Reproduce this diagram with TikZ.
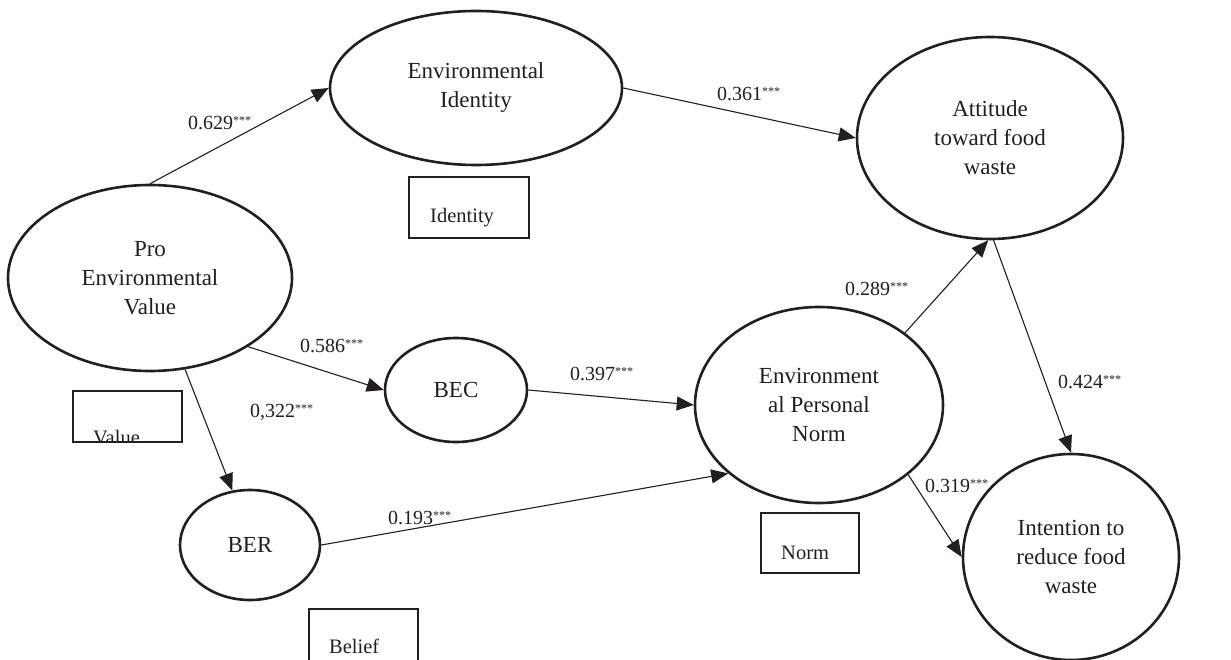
\documentclass[tikz,border=0pt]{standalone}
\usepackage{fontspec}
\setmainfont{Liberation Serif}
\usetikzlibrary{shapes.geometric,arrows.meta}
\definecolor{ink}{RGB}{35,31,32}
\newcommand{\sig}[1]{#1\raisebox{5pt}{\fontsize{12}{12}\selectfont ***}}
\begin{document}
\begin{tikzpicture}[x=1pt,y=-1pt,
  lat/.style={draw=ink, line width=2.6pt, ellipse, inner sep=0pt, align=center, text=ink, font=\fontsize{23}{29}\selectfont},
  conn/.style={draw=ink, line width=1.1pt, -{Triangle[length=17pt,width=14pt]}},
  coef/.style={anchor=base west, inner sep=0pt, text=ink, font=\fontsize{20}{24}\selectfont},
  indbox/.style={draw=ink, line width=1.4pt},
  indtxt/.style={anchor=base west, inner sep=0pt, text=ink, font=\fontsize{20.5}{24}\selectfont}
]
\useasboundingbox (0,0) rectangle (1231,660);
\fill[white] (0,0) rectangle (1231,660);

% latent variables
\node[lat, minimum width=284pt, minimum height=186pt] (pev) at (150,278) {Pro\\Environmental\\Value};
\node[lat, minimum width=292pt, minimum height=154pt] (ei) at (476,88) {Environmental\\Identity};
\node[lat, minimum width=266pt, minimum height=202pt] (att) at (990,138) {Attitude\\toward food\\waste};
\node[lat, minimum width=142pt, minimum height=104pt] (bec) at (456,390) {BEC};
\node[lat, minimum width=140pt, minimum height=110pt] (ber) at (250,545) {BER};
\node[lat, minimum width=248pt, minimum height=196pt] (epn) at (819,405) {Environment\\al Personal\\Norm};
\node[lat, minimum width=216pt, minimum height=206pt] (itr) at (1071,557) {Intention to\\reduce food\\waste};

% indicator boxes
\node[indtxt] (tid) at (430,223) {Identity};
\draw[indbox] (409,177) rectangle (529,238);
\begin{scope}
  \clip (73,391) rectangle (182,442);
  \node[indtxt] (tval) at (93,444) {Value};
\end{scope}
\draw[indbox] (73,391) rectangle (182,442);
\node[indtxt] (tbel) at (329,653) {Belief};
\draw[indbox] (309,668) -- (309,609) -- (418,609) -- (418,668);
\node[indtxt] (tnorm) at (781,559) {Norm};
\draw[indbox] (761,513) rectangle (859,573);

% paths
\draw[conn] (pev.north) -- (ei.west);
\draw[conn] (ei.east) -- (att.west);
\draw[conn] (pev.-35) -- (bec.west);
\draw[conn] (pev.-69) -- (ber.108);
\draw[conn] (bec.east) -- (epn.west);
\draw[conn] (ber.east) -- (epn.217);
\draw[conn] (epn.40) -- (att.-91);
\draw[conn] (att.-88) -- (itr.north);
\draw[conn] (epn.-38) -- (itr.west);

% coefficients
\node[coef] (c1) at (188,130) {\sig{0.629}};
\node[coef] (c2) at (717,101) {\sig{0.361}};
\node[coef] (c3) at (300,352) {\sig{0.586}};
\node[coef] (c4) at (250,417) {\sig{0,322}};
\node[coef] (c5) at (570,380) {\sig{0.397}};
\node[coef] (c6) at (388,524) {\sig{0.193}};
\node[coef] (c7) at (845,295) {\sig{0.289}};
\node[coef] (c8) at (1058,388) {\sig{0.424}};
\node[coef] (c9) at (925,492) {\sig{0.319}};
\end{tikzpicture}
\end{document}
